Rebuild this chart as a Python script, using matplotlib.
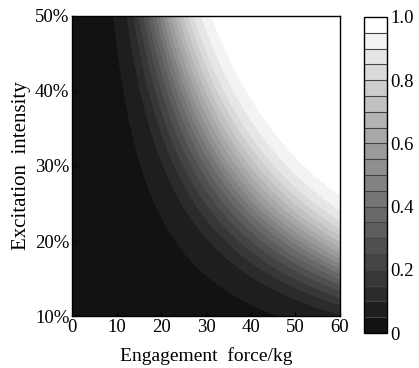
import numpy as np
import matplotlib
matplotlib.use("Agg")
import matplotlib.pyplot as plt
from matplotlib.colors import ListedColormap, BoundaryNorm

plt.rcParams['font.family'] = ['Liberation Serif', 'DejaVu Serif']

# contour band edges (0..1 in steps of 0.05)
levels = np.round(np.linspace(0, 1, 21), 2)

# force (kg) at which each band edge crosses the 50% intensity line
# (the edges follow force * intensity = const)
edge_levels = [0.0, 0.05, 0.10, 0.15, 0.20, 0.25, 0.30, 0.35, 0.40, 0.45, 0.50,
               0.55, 0.60, 0.65, 0.70, 0.75, 0.80, 0.85, 0.90, 0.95, 1.0]
force_at_top = [6.0, 9.3, 12.3, 13.8, 15.0, 16.1, 17.1, 18.0, 18.9, 19.7, 20.5,
                21.3, 22.2, 23.1, 24.0, 25.0, 26.1, 27.3, 29.0, 31.3, 35.0]

xticks = [0, 10, 20, 30, 40, 50, 60]
yticks = [10, 20, 30, 40, 50]
ytick_labels = ['10%', '20%', '30%', '40%', '50%']
cbar_ticks = [0, 0.2, 0.4, 0.6, 0.8, 1.0]
cbar_labels = ['0', '0.2', '0.4', '0.6', '0.8', '1.0']

force = np.linspace(0, 60, 500)
intensity = np.linspace(10, 50, 500)
F, I = np.meshgrid(force, intensity)
Z = np.interp(F * I / 50.0, force_at_top, edge_levels)

cmap = ListedColormap([str(g) for g in np.linspace(0.07, 1.0, 20)])
norm = BoundaryNorm(levels, cmap.N)

fig = plt.figure(figsize=(4.19, 3.68), dpi=100)
ax = fig.add_axes([0.172, 0.141, 0.639, 0.816])
cax = fig.add_axes([0.869, 0.095, 0.055, 0.859])

cs = ax.contourf(F, I, Z, levels=levels, cmap=cmap, norm=norm)
ax.set_xlim(0, 60)
ax.set_ylim(10, 50)
ax.set_xticks(xticks)
ax.set_yticks(yticks)
ax.set_yticklabels(ytick_labels)
ax.tick_params(direction='in', length=3, labelsize=13.5, colors='black', pad=2)
for s in ax.spines.values():
    s.set_linewidth(1.0)
ax.set_xlabel('Engagement  force/kg', fontsize=14, labelpad=8)
ax.set_ylabel('Excitation  intensity', fontsize=15, labelpad=3)

cb = fig.colorbar(cs, cax=cax, drawedges=True)
cb.set_ticks(cbar_ticks)
cb.set_ticklabels(cbar_labels)
cb.minorticks_off()
cb.ax.tick_params(labelsize=13.5, length=0, pad=2)
cb.dividers.set_color('#444444')
cb.dividers.set_linewidth(0.8)
cb.outline.set_linewidth(1.0)

fig.savefig('out.png', dpi=100)
